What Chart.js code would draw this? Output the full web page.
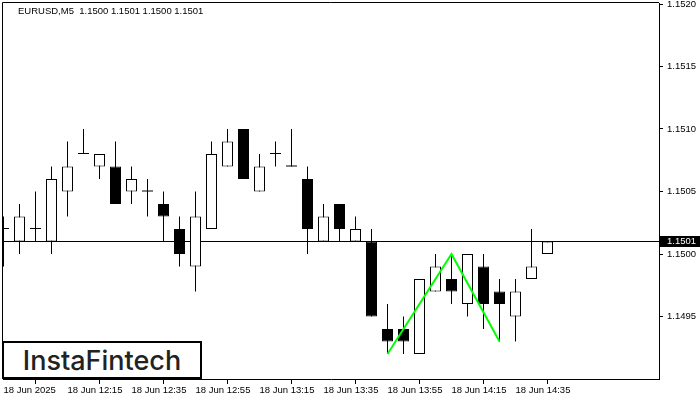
<!DOCTYPE html>
<html>
<head>
<meta charset="utf-8">
<script src="https://cdn.jsdelivr.net/npm/chart.js@4.4.1/dist/chart.umd.min.js"></script>
<style>
  html, body { margin: 0; padding: 0; background: #fff; }
  #wrap { position: relative; width: 700px; height: 400px; }
  #header {
    position: absolute; left: 18px; top: 5px;
    font: 9.5px "Liberation Sans", Arial, sans-serif; color: #000;
    white-space: pre;
  }
  #logo {
    position: absolute; left: 2px; top: 341px; width: 200px; height: 38px;
    box-sizing: border-box; border: 2px solid #000; background: #fff;
    font: 500 27px Inter, sans-serif; color: #222;
    display: flex; align-items: center; justify-content: center;
  }
</style>
</head>
<body>
<div id="wrap">
  <canvas id="chart" width="700" height="400"></canvas>
  <div id="header"></div>
  <div id="logo">InstaFintech</div>
</div>
<script>
// EURUSD M5 candles, 11:55 .. 14:45
const symbol = "EURUSD,M5";
const opens  = [1.1502, 1.1501, 1.1502, 1.1501, 1.1505, 1.1508, 1.1507, 1.1507, 1.1505, 1.1505,
                1.1504, 1.1502, 1.1499, 1.1502, 1.1507, 1.1510, 1.1505, 1.1508, 1.1507, 1.1506,
                1.1501, 1.1504, 1.1501, 1.1501, 1.1494, 1.1494, 1.1492, 1.1497, 1.1498, 1.1496,
                1.1499, 1.1497, 1.1495, 1.1498, 1.1500];
const highs  = [1.1503, 1.1504, 1.1505, 1.1507, 1.1509, 1.1510, 1.1508, 1.1509, 1.1507, 1.1506,
                1.1505, 1.1503, 1.1505, 1.1509, 1.1510, 1.1510, 1.1508, 1.1509, 1.1510, 1.1507,
                1.1504, 1.1504, 1.1503, 1.1502, 1.1496, 1.1495, 1.1498, 1.1500, 1.1500, 1.1500,
                1.1500, 1.1498, 1.1498, 1.1502, 1.1501];
const lows   = [1.1499, 1.1500, 1.1501, 1.1500, 1.1503, 1.1508, 1.1506, 1.1504, 1.1504, 1.1503,
                1.1501, 1.1499, 1.1497, 1.1502, 1.1507, 1.1506, 1.1505, 1.1507, 1.1507, 1.1500,
                1.1501, 1.1501, 1.1501, 1.1495, 1.1492, 1.1492, 1.1492, 1.1497, 1.1496, 1.1495,
                1.1494, 1.1493, 1.1493, 1.1498, 1.1500];
const closes = [1.1502, 1.1503, 1.1502, 1.1506, 1.1507, 1.1508, 1.1508, 1.1504, 1.1506, 1.1505,
                1.1503, 1.1500, 1.1503, 1.1508, 1.1509, 1.1506, 1.1507, 1.1508, 1.1507, 1.1502,
                1.1503, 1.1502, 1.1502, 1.1495, 1.1493, 1.1493, 1.1498, 1.1499, 1.1497, 1.1500,
                1.1496, 1.1496, 1.1497, 1.1499, 1.1501];

const tickIndex  = [0, 4, 8, 12, 16, 20, 24, 28, 32];
const tickLabels = ["18 Jun 2025", "18 Jun 12:15", "18 Jun 12:35", "18 Jun 12:55", "18 Jun 13:15",
                    "18 Jun 13:35", "18 Jun 13:55", "18 Jun 14:15", "18 Jun 14:35"];
const priceTicks = [1.1495, 1.1500, 1.1505, 1.1510, 1.1515, 1.1520];

// double top pattern
const patternIdx    = [24, 28, 31];
const patternPrices = [1.1492, 1.1500, 1.1493];

const last = opens.length - 1;
const bid = closes[last];

// visible range (41 slots of 16px, 12.5px per pip)
const xMin = -0.03125, xMax = 40.96875;
const yMin = 1.1490, yMax = 1.152008;

document.getElementById("header").textContent =
  symbol + "  " + [opens[last], highs[last], lows[last], closes[last]].map(v => v.toFixed(4)).join(" ");

const wickData = opens.map((o, i) => ({ x: i, y: [lows[i], highs[i]] }));
const bodyIdx = opens.map((o, i) => i).filter(i => opens[i] !== closes[i]);
const bodyData = bodyIdx.map(i => ({ x: i, y: [opens[i], closes[i]] }));
const bodyColors = bodyIdx.map(i => closes[i] > opens[i] ? "#ffffff" : "#000000");
// open == close: flat dash, kept visible with minBarLength
const dojiData = opens.map((o, i) => i).filter(i => opens[i] === closes[i]).map(i => ({ x: i, y: [opens[i], closes[i]] }));

const axisFont = { family: "'Liberation Sans', Arial, sans-serif", size: 9.5 };

const framePlugin = {
  id: "frame",
  beforeDatasetsDraw(chart) {
    const { ctx, chartArea } = chart;
    ctx.save();
    ctx.strokeStyle = "#000";
    ctx.lineWidth = 1;
    ctx.beginPath();
    ctx.moveTo(2.5, chartArea.bottom);
    ctx.lineTo(2.5, 2.5);
    ctx.lineTo(chartArea.right, 2.5);
    ctx.stroke();
    ctx.restore();
  },
  afterDraw(chart) {
    // current price tag on the right axis
    const { ctx, chartArea } = chart;
    const y = chart.scales.y.getPixelForValue(bid);
    ctx.save();
    ctx.fillStyle = "#000";
    ctx.fillRect(chartArea.right + 1, Math.round(y) - 6, 41, 11);
    ctx.fillStyle = "#fff";
    ctx.font = "9.5px 'Liberation Sans', Arial, sans-serif";
    ctx.textBaseline = "middle";
    ctx.fillText(bid.toFixed(4), chartArea.right + 8, y);
    ctx.restore();
  }
};

new Chart(document.getElementById("chart"), {
  type: "bar",
  data: {
    datasets: [
      {
        type: "line",
        data: patternIdx.map((x, i) => ({ x: x, y: patternPrices[i] })),
        borderColor: "#00ff00",
        borderWidth: 2,
        pointRadius: 0,
        pointHoverRadius: 0,
        pointBorderWidth: 0,
        tension: 0,
        order: 0
      },
      {
        data: dojiData,
        backgroundColor: "#000",
        borderWidth: 0,
        barThickness: 11,
        minBarLength: 1,
        inflateAmount: 0,
        grouped: false,
        order: 1
      },
      {
        data: bodyData,
        backgroundColor: bodyColors,
        borderColor: "#000",
        borderWidth: 1,
        borderSkipped: false,
        barThickness: 11,
        inflateAmount: 0,
        grouped: false,
        order: 2
      },
      {
        data: wickData,
        backgroundColor: "#000",
        borderWidth: 0,
        barThickness: 1,
        inflateAmount: 0,
        grouped: false,
        order: 3
      },
      {
        type: "line",
        data: [{ x: xMin, y: bid }, { x: xMax, y: bid }],
        borderColor: "#000",
        borderWidth: 1,
        pointRadius: 0,
        pointHoverRadius: 0,
        pointBorderWidth: 0,
        order: 4
      }
    ]
  },
  options: {
    responsive: false,
    animation: false,
    events: [],
    devicePixelRatio: 1,
    layout: { padding: { left: 3, top: 3, right: 0, bottom: 0 } },
    plugins: {
      legend: { display: false },
      tooltip: { enabled: false }
    },
    scales: {
      x: {
        type: "linear",
        min: xMin,
        max: xMax,
        offset: false,
        grid: { drawOnChartArea: false, tickLength: 5, color: "#000" },
        border: { color: "#000", width: 1 },
        afterBuildTicks(scale) { scale.ticks = tickIndex.map(v => ({ value: v })); },
        afterFit(scale) {
          scale.height = 21;
          scale.paddingLeft = 0;
          scale.paddingRight = 0;
        },
        ticks: {
          autoSkip: false,
          maxRotation: 0,
          align: "start",
          padding: 1,
          color: "#000",
          font: axisFont,
          callback: (value, index) => tickLabels[index]
        }
      },
      y: {
        position: "right",
        min: yMin,
        max: yMax,
        grid: { drawOnChartArea: false, tickLength: 4, color: "#000" },
        border: { color: "#000", width: 1 },
        afterBuildTicks(scale) { scale.ticks = priceTicks.map(v => ({ value: v })); },
        afterFit(scale) {
          scale.width = 41;
          scale.paddingTop = 0;
          scale.paddingBottom = 0;
        },
        ticks: {
          padding: 4,
          color: "#000",
          font: axisFont,
          callback: value => value.toFixed(4)
        }
      }
    }
  },
  plugins: [framePlugin]
});
</script>
</body>
</html>
